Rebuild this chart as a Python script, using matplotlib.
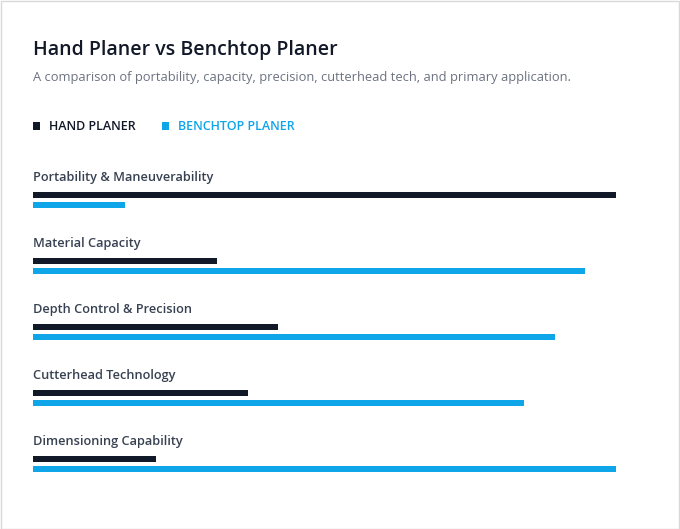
import matplotlib
matplotlib.use("Agg")
import matplotlib.pyplot as plt
from matplotlib.patches import Rectangle

plt.rcParams['font.family'] = ['Open Sans', 'DejaVu Sans']

categories = ['Portability & Maneuverability', 'Material Capacity',
              'Depth Control & Precision', 'Cutterhead Technology',
              'Dimensioning Capability']
hand = [95, 30, 40, 35, 20]
bench = [15, 90, 85, 80, 95]
series_names = ['HAND PLANER', 'BENCHTOP PLANER']

dark = '#111827'
blue = '#0ea5e9'

W, H = 680, 529
fig = plt.figure(figsize=(W / 100, H / 100), dpi=100)
fig.patch.set_facecolor('white')
fig.add_artist(Rectangle((0.5 / W, 0.5 / H), 1 - 1.5 / W, 1 - 1.5 / H,
                         transform=fig.transFigure, fill=False,
                         edgecolor='#d9d9d9', linewidth=1))

fig.text(33 / W, 1 - 49.5 / H, 'Hand Planer vs Benchtop Planer', fontsize=14,
         fontweight='semibold', color=dark, va='center')
fig.text(33 / W, 1 - 78 / H,
         'A comparison of portability, capacity, precision, cutterhead tech, and primary application.',
         fontsize=9.25, color='#6b7280', va='center')

# legend
lx = [33, 162]
for name, col, x in zip(series_names, [dark, blue], lx):
    fig.add_artist(Rectangle((x / W, 1 - 129.5 / H), 7 / W, 7 / H,
                             transform=fig.transFigure, color=col, lw=0))
    fig.text((x + 16) / W, 1 - 127 / H, name, fontsize=9.0,
             fontweight='semibold', color=col, va='center')

# bars
top, bottom = 160, 480
ax = fig.add_axes([33 / W, 1 - bottom / H, (616 - 33) / W, (bottom - top) / H])
ax.set_xlim(0, 95)
ax.set_ylim(bottom - top, 0)
ax.axis('off')

pitch = 66
for i, cat in enumerate(categories):
    y0 = i * pitch
    ax.text(0, y0 + 17.5, cat, fontsize=9.15, fontweight='semibold',
            color='#374151', va='center', ha='left')
ax.barh([i * pitch + 34.7 for i in range(len(categories))], hand, height=6,
        color=dark, left=0)
ax.barh([i * pitch + 44.7 for i in range(len(categories))], bench, height=6,
        color=blue, left=0)

fig.savefig('out.png', dpi=100, facecolor='white')
